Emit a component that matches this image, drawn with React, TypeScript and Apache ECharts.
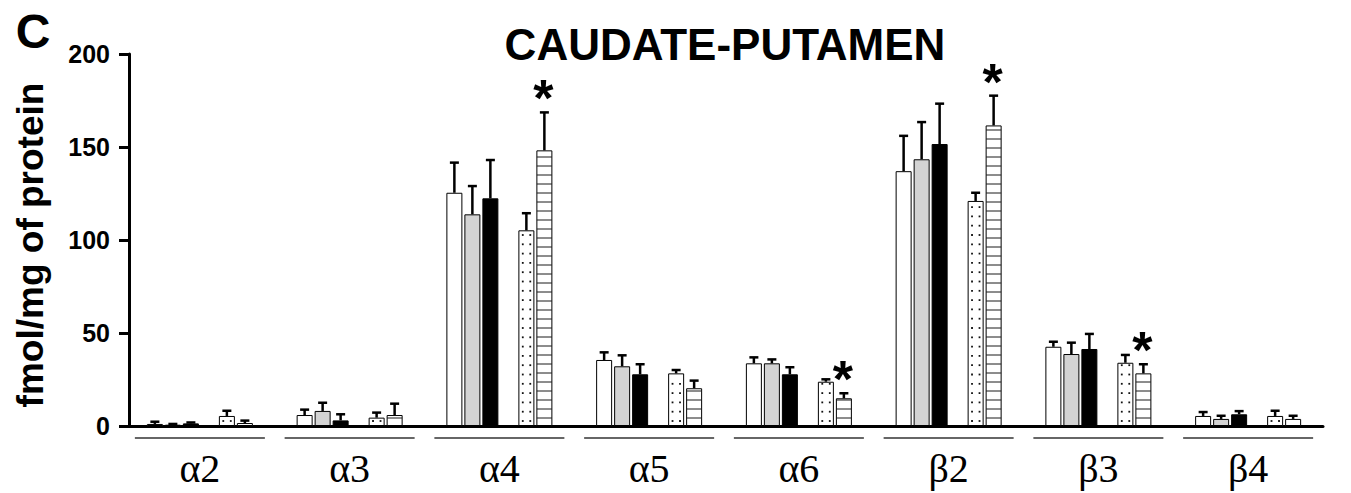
import React, { useEffect, useRef } from 'react';
import * as echarts from 'echarts';

const categories = ['α2', 'α3', 'α4', 'α5', 'α6', 'β2', 'β3', 'β4'];

const whiteVals = [1.1, 5.9, 125.4, 35.5, 33.7, 137.0, 42.6, 5.4];
const whiteErr = [1.2, 2.9, 16.2, 4.1, 3.2, 19.0, 2.7, 2.1];
const grayVals = [0.7, 8.1, 113.8, 32.1, 33.7, 143.4, 38.7, 3.8];
const grayErr = [0.4, 4.4, 15.2, 5.9, 2.1, 20.0, 6.1, 1.7];
const blackVals = [1.4, 3.0, 122.4, 27.8, 27.8, 151.6, 41.4, 6.3];
const blackErr = [0.5, 3.3, 20.6, 5.4, 3.8, 21.7, 8.1, 1.7];
const dottedVals = [5.4, 4.5, 105.2, 28.3, 23.8, 121.0, 34.0, 5.4];
const dottedErr = [2.8, 2.7, 9.2, 1.8, 1.3, 4.4, 4.2, 2.8];
const stripedVals = [1.6, 5.9, 148.2, 20.3, 14.9, 161.6, 28.3, 3.8];
const stripedErr = [1.3, 6.1, 20.4, 4.1, 2.7, 16.0, 4.9, 1.7];
const significant = [false, false, true, false, true, true, true, false];

const yTicks = [0, 50, 100, 150, 200];

const BAR_W = 16;
const PITCH = 18;
const SLOTS = 6;

type Pattern = 'none' | 'dots' | 'stripes';

function barLeft(center: number, slot: number) {
  const total = SLOTS * BAR_W + (SLOTS - 1) * (PITCH - BAR_W);
  return center - total / 2 + slot * PITCH;
}

function makeRender(slot: number, pattern: Pattern, withStars: boolean) {
  return (params: any, api: any) => {
    const i = api.value(0);
    const v = api.value(1);
    const e = api.value(2);
    const star = api.value(3);
    const base = api.coord([i, 0]);
    const top = api.coord([i, v]);
    const errTop = api.coord([i, v + e]);
    const left = barLeft(base[0], slot);
    const cx = left + BAR_W / 2;
    const children: any[] = [];
    if (pattern === 'stripes') {
      for (let y = base[1] - 8; y > top[1] + 1; y -= 9) {
        children.push({
          type: 'line',
          shape: { x1: left + 0.5, y1: y, x2: left + BAR_W - 0.5, y2: y },
          style: { stroke: '#1a1a1a', lineWidth: 1 },
        });
      }
    }
    if (pattern === 'dots') {
      for (let y = base[1] - 5; y > top[1] + 2; y -= 9.3) {
        children.push({ type: 'rect', shape: { x: left + 3.5, y: y - 0.9, width: 1.8, height: 1.8 }, style: { fill: '#111' } });
        children.push({ type: 'rect', shape: { x: left + 11, y: y - 0.9, width: 1.8, height: 1.8 }, style: { fill: '#111' } });
      }
    }
    children.push({
      type: 'line',
      shape: { x1: cx, y1: top[1], x2: cx, y2: errTop[1] },
      style: { stroke: '#000', lineWidth: 2.5 },
    });
    children.push({
      type: 'line',
      shape: { x1: cx - 4.5, y1: errTop[1], x2: cx + 4.5, y2: errTop[1] },
      style: { stroke: '#000', lineWidth: 2.5 },
    });
    if (withStars && star) {
      children.push({
        type: 'text',
        x: cx - 1,
        y: errTop[1] - 14,
        style: {
          text: '*',
          fontSize: 52,
          fontWeight: 'bold',
          fontFamily: 'Liberation Sans, Arial, sans-serif',
          fill: '#000',
          textAlign: 'center',
          textVerticalAlign: 'middle',
          align: 'center',
          verticalAlign: 'middle',
        },
      });
    }
    return { type: 'group', children };
  };
}

export default function App() {
  const ref = useRef<HTMLDivElement>(null);
  useEffect(() => {
    if (!ref.current) return;
    const chart = echarts.init(ref.current, null, { renderer: 'svg' });

    const barStyle = (fill: string) => ({ color: fill, borderColor: '#000', borderWidth: 1 });
    const groups = [
      { name: 'white', vals: whiteVals, errs: whiteErr, fill: '#ffffff', slot: 0, pattern: 'none' as Pattern },
      { name: 'gray', vals: grayVals, errs: grayErr, fill: '#d3d3d3', slot: 1, pattern: 'none' as Pattern },
      { name: 'black', vals: blackVals, errs: blackErr, fill: '#000000', slot: 2, pattern: 'none' as Pattern },
      { name: 'dotted', vals: dottedVals, errs: dottedErr, fill: '#ffffff', slot: 4, pattern: 'dots' as Pattern },
      { name: 'striped', vals: stripedVals, errs: stripedErr, fill: '#ffffff', slot: 5, pattern: 'stripes' as Pattern },
    ];

    const barSeries: any[] = [];
    groups.forEach((g, k) => {
      if (k === 3) {
        barSeries.push({
          type: 'bar',
          name: 'gap',
          data: categories.map(() => '-'),
          barWidth: BAR_W,
          barGap: '12.5%',
          silent: true,
        });
      }
      barSeries.push({
        type: 'bar',
        name: g.name,
        data: g.vals,
        barWidth: BAR_W,
        barGap: '12.5%',
        itemStyle: barStyle(g.fill),
        silent: true,
      });
    });

    const decoSeries = groups.map((g) => ({
      type: 'custom',
      name: g.name + '-err',
      data: g.vals.map((v, i) => [i, v, g.errs[i], g.slot === 5 && significant[i] ? 1 : 0]),
      renderItem: makeRender(g.slot, g.pattern, g.slot === 5),
      silent: true,
      z: 3,
    }));

    const underlineSeries = {
      type: 'custom',
      name: 'underline',
      data: categories.map((c, i) => [i, 0]),
      renderItem: (params: any, api: any) => {
        const p = api.coord([api.value(0), 0]);
        return {
          type: 'line',
          shape: { x1: p[0] - 65, y1: p[1] + 12, x2: p[0] + 65, y2: p[1] + 12 },
          style: { stroke: '#333', lineWidth: 1.5 },
        };
      },
      silent: true,
    };

    chart.setOption({
      animation: false,
      backgroundColor: '#fff',
      grid: { left: 125, top: 54, width: 1198, height: 372, containLabel: false },
      xAxis: {
        type: 'category',
        data: categories,
        axisLine: { show: true, lineStyle: { color: '#000', width: 3 } },
        axisTick: { show: false },
        axisLabel: {
          margin: 22,
          fontSize: 40,
          fontFamily: 'Liberation Serif, Times New Roman, serif',
          color: '#000',
        },
        splitLine: { show: false },
      },
      yAxis: {
        type: 'value',
        min: yTicks[0],
        max: yTicks[yTicks.length - 1],
        interval: 50,
        offset: -4,
        axisLine: { show: true, lineStyle: { color: '#000', width: 3 } },
        axisTick: { show: true, length: 10, lineStyle: { color: '#000', width: 3 } },
        axisLabel: {
          margin: 19,
          fontSize: 25,
          fontWeight: 'bold',
          fontFamily: 'Liberation Sans, Arial, sans-serif',
          color: '#000',
        },
        splitLine: { show: false },
      },
      graphic: [
        {
          type: 'text',
          x: 33,
          y: 31,
          style: {
            text: 'C',
            fontSize: 48,
            fontWeight: 'bold',
            fontFamily: 'Liberation Sans, Arial, sans-serif',
            fill: '#000',
            textAlign: 'center',
            textVerticalAlign: 'middle',
          },
        },
        {
          type: 'text',
          x: 725,
          y: 44,
          style: {
            text: 'CAUDATE-PUTAMEN',
            fontSize: 44,
            fontWeight: 'bold',
            fontFamily: 'Liberation Sans, Arial, sans-serif',
            fill: '#000',
            textAlign: 'center',
            textVerticalAlign: 'middle',
          },
        },
        {
          type: 'text',
          x: 30,
          y: 245,
          rotation: Math.PI / 2,
          style: {
            text: 'fmol/mg of protein',
            fontSize: 37,
            fontWeight: 'bold',
            fontFamily: 'Liberation Sans, Arial, sans-serif',
            fill: '#000',
            textAlign: 'center',
            textVerticalAlign: 'middle',
          },
        },
      ],
      series: [...barSeries, ...decoSeries, underlineSeries],
    });
    return () => chart.dispose();
  }, []);
  return (
    <div
      ref={ref}
      style={{ position: 'fixed', left: 0, top: 0, width: 1351, height: 493, background: '#fff' }}
    />
  );
}
